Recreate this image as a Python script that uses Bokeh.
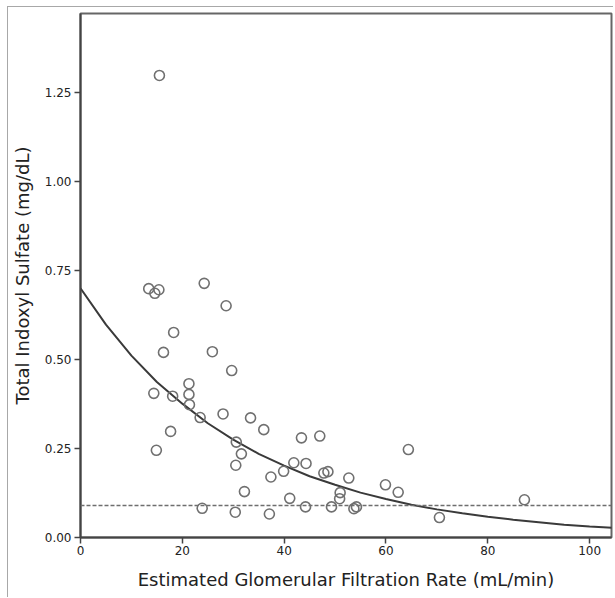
from bokeh.plotting import figure
from bokeh.models import Range1d, FixedTicker, Span, ColumnDataSource, CustomJSTickFormatter
from bokeh.embed import file_html
from bokeh.resources import INLINE

# eGFR (mL/min) and total indoxyl sulfate (mg/dL)
egfr = [13.4, 14.6, 15.4, 15.5, 24.3, 28.6, 18.3, 16.3, 25.9, 29.7,
        21.3, 14.4, 18.1, 21.3, 21.4, 23.5, 28.0, 33.4, 17.7, 14.9,
        30.6, 31.6, 30.5, 32.2, 23.9, 30.4, 36.0, 43.4, 47.0, 41.9,
        44.3, 39.9, 37.4, 47.8, 48.6, 52.7, 41.1, 51.0, 50.9, 44.2,
        49.3, 53.7, 54.2, 37.1, 64.4, 59.9, 62.4, 87.2, 70.5]
indoxyl = [0.699, 0.686, 0.696, 1.298, 0.714, 0.651, 0.576, 0.520, 0.522, 0.469,
           0.432, 0.405, 0.397, 0.402, 0.373, 0.337, 0.347, 0.336, 0.298, 0.245,
           0.268, 0.235, 0.203, 0.129, 0.082, 0.071, 0.303, 0.280, 0.285, 0.210,
           0.208, 0.186, 0.170, 0.181, 0.185, 0.167, 0.110, 0.126, 0.109, 0.086,
           0.086, 0.081, 0.086, 0.066, 0.247, 0.148, 0.127, 0.106, 0.056]

# fitted curve
curve_x = [0, 5, 10, 15, 20, 25, 30, 35, 40, 45, 50, 55, 60, 65, 70, 75, 80, 85, 90, 95, 100, 105]
curve_y = [0.700, 0.598, 0.511, 0.437, 0.376, 0.321, 0.275, 0.235, 0.202, 0.172, 0.148,
           0.126, 0.108, 0.092, 0.079, 0.068, 0.058, 0.050, 0.043, 0.036, 0.031, 0.027]

reference_level = 0.09

x_ticks = [0, 20, 40, 60, 80, 100]
y_ticks = [0.0, 0.25, 0.5, 0.75, 1.0, 1.25]

p = figure(width=606, height=591, output_backend="svg", toolbar_location=None,
           x_range=Range1d(0, 104.3), y_range=Range1d(0, 1.472),
           min_border_left=72, min_border_top=6, min_border_right=3, min_border_bottom=61)
p.margin = (7, 0, 0, 8)
p.styles = {"box-shadow": "-1px -1px 0 #a8a8a8"}
p.xgrid.visible = False
p.ygrid.visible = False
p.outline_line_color = "#666666"
p.outline_line_width = 2
p.background_fill_color = "white"
p.border_fill_color = "white"

src = ColumnDataSource(dict(x=egfr, y=indoxyl))
p.line(curve_x, curve_y, line_color="#3a3a3a", line_width=2)
p.add_layout(Span(location=reference_level, dimension="width", line_color="#6e6e6e",
                  line_width=1.5, line_dash="4 2"))
p.scatter("x", "y", source=src, size=10, fill_color=None, line_color="#707070", line_width=1.6)

for ax in (p.xaxis[0], p.yaxis[0]):
    ax.axis_line_color = "#444444"
    ax.axis_line_width = 2
    ax.major_tick_line_color = "#444444"
    ax.major_tick_line_width = 1.5
    ax.major_tick_in = 0
    ax.major_tick_out = 6
    ax.minor_tick_line_color = None
    ax.major_label_text_font = "DejaVu Sans"
    ax.major_label_text_font_size = "12px"
    ax.major_label_text_color = "#222222"
    ax.axis_label_text_font = "DejaVu Sans"
    ax.axis_label_text_font_size = "18px"
    ax.axis_label_text_font_style = "normal"
    ax.axis_label_text_color = "#222222"

p.xaxis[0].ticker = FixedTicker(ticks=x_ticks)
p.yaxis[0].ticker = FixedTicker(ticks=y_ticks)
p.yaxis[0].formatter = CustomJSTickFormatter(code="return tick.toFixed(2);")
p.xaxis[0].axis_label = "Estimated Glomerular Filtration Rate (mL/min)"
p.yaxis[0].axis_label = "Total Indoxyl Sulfate (mg/dL)"
p.xaxis[0].axis_label_standoff = 11
p.yaxis[0].axis_label_standoff = 9
p.xaxis[0].major_label_standoff = 2
p.yaxis[0].major_label_standoff = 3

open("out.html", "w").write(file_html(p, INLINE))
